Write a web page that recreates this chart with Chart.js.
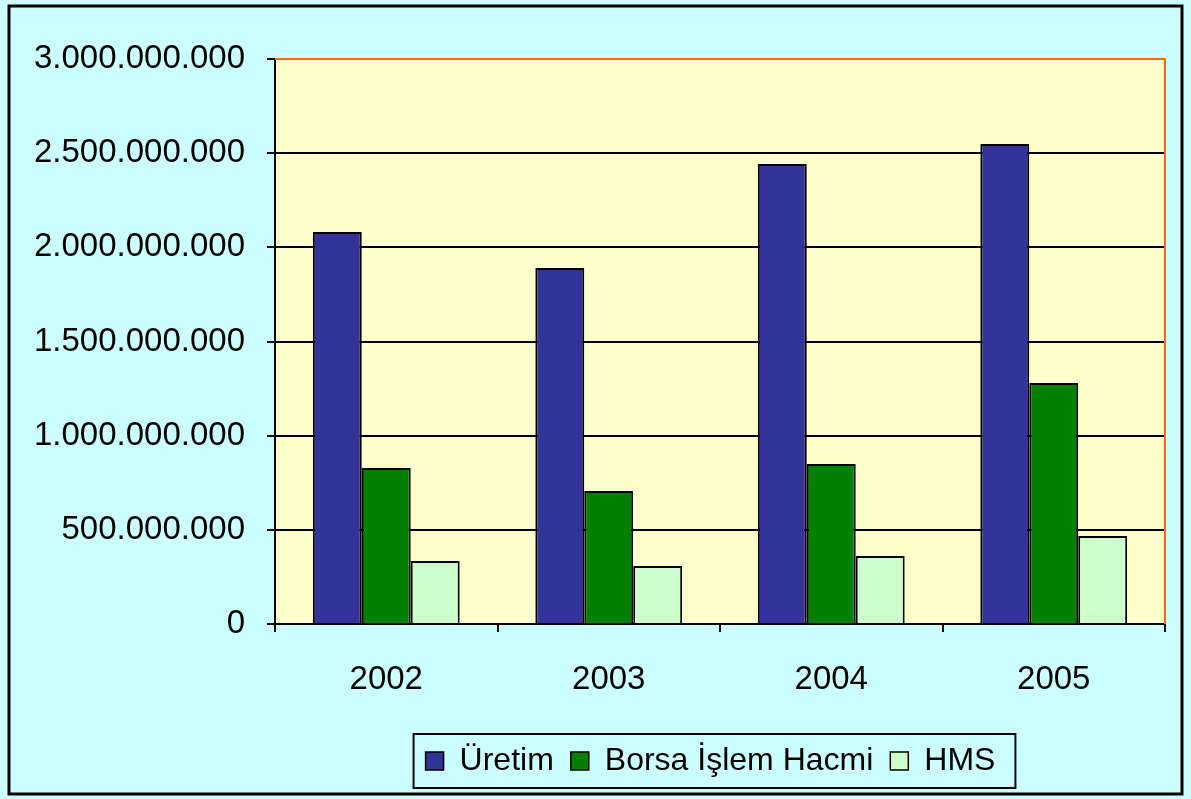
<!DOCTYPE html>
<html>
<head>
<meta charset="utf-8">
<script src="https://cdn.jsdelivr.net/npm/chart.js@4.4.0/dist/chart.umd.min.js"></script>
<style>
  html, body { margin: 0; padding: 0; background: #fff; }
  #wrap { width: 1191px; height: 799px; }
</style>
</head>
<body>
<div id="wrap"><canvas id="chart"></canvas></div>
<script>
// data
const years = ["2002", "2003", "2004", "2005"];
const uretim = [2081000000, 1890000000, 2442000000, 2549000000];
const borsa = [828000000, 706000000, 850000000, 1280000000];
const hms = [334000000, 308000000, 361000000, 467000000];
const yTicks = [0, 500000000, 1000000000, 1500000000, 2000000000, 2500000000, 3000000000];
const yTickLabels = ["0", "500.000.000", "1.000.000.000", "1.500.000.000", "2.000.000.000", "2.500.000.000", "3.000.000.000"];

const FONT = "'Liberation Sans', Arial, sans-serif";
const LEGEND_SHIFT = 128; // legend sits right of centre in the original

// backgrounds, frame, legend box
const frame = {
    id: "frame",
    afterLayout(chart) {
        const lg = chart.legend;
        lg.left += LEGEND_SHIFT;
        lg.right += LEGEND_SHIFT;
        lg.legendHitBoxes.forEach(h => { h.left += LEGEND_SHIFT; });
    },
    beforeDraw(chart) {
        const c = chart.ctx, a = chart.chartArea;
        c.save();
        c.fillStyle = "#CCFFFF";
        c.fillRect(0, 0, chart.width, chart.height);
        c.fillStyle = "#FFFFCC";
        c.fillRect(a.left, a.top, a.right - a.left, a.bottom - a.top);
        c.restore();
    },
    afterDraw(chart) {
        const c = chart.ctx, a = chart.chartArea;
        c.save();
        // orange top + right border of plot
        c.strokeStyle = "#FF6600";
        c.lineWidth = 2;
        c.beginPath();
        c.moveTo(a.left, a.top);
        c.lineTo(a.right, a.top);
        c.lineTo(a.right, a.bottom);
        c.stroke();
        // outer border
        c.strokeStyle = "#000";
        c.lineWidth = 3;
        c.strokeRect(9, 6, 1173, 788);
        // legend box
        const hb = chart.legend.legendHitBoxes;
        if (hb && hb.length) {
            const l = hb[0].left - 12;
            const r = hb[hb.length - 1].left + hb[hb.length - 1].width + 20;
            const t = hb[0].top - 11;
            const b = hb[0].top + hb[0].height + 11;
            c.lineWidth = 2;
            c.strokeRect(l, t, r - l, b - t);
        }
        c.restore();
    }
};

new Chart(document.getElementById("chart"), {
    type: "bar",
    data: {
        labels: years,
        datasets: [
            { label: "Üretim", data: uretim, backgroundColor: "#333399" },
            { label: "Borsa İşlem Hacmi", data: borsa, backgroundColor: "#008000" },
            { label: "HMS", data: hms, backgroundColor: "#CCFFCC" }
        ]
    },
    options: {
        responsive: true,
        maintainAspectRatio: false,
        animation: false,
        layout: { padding: { left: 0, right: 26, top: 59, bottom: 12 } },
        datasets: {
            bar: {
                categoryPercentage: 0.66,
                barPercentage: 1,
                borderColor: "#000",
                borderWidth: 2
            }
        },
        plugins: {
            tooltip: { enabled: false },
            legend: {
                position: "bottom",
                labels: {
                    color: "#000",
                    font: { family: FONT, size: 32 },
                    boxWidth: 18,
                    boxHeight: 18,
                    padding: 17,
                    generateLabels(chart) {
                        return chart.data.datasets.map((ds, i) => ({
                            text: ds.label,
                            fillStyle: ds.backgroundColor,
                            strokeStyle: "#000",
                            lineWidth: 1.5,
                            datasetIndex: i,
                            fontColor: "#000"
                        }));
                    }
                }
            }
        },
        scales: {
            x: {
                grid: {
                    offset: true,
                    drawOnChartArea: false,
                    drawTicks: true,
                    tickLength: 8,
                    color: "#000",
                    lineWidth: 2
                },
                border: { color: "#000", width: 2 },
                ticks: {
                    color: "#000",
                    font: { family: FONT, size: 33 },
                    padding: 28
                },
                afterFit(s) { s.height = 104; }
            },
            y: {
                min: 0,
                max: 3000000000,
                afterBuildTicks(s) { s.ticks = yTicks.map(v => ({ value: v })); },
                grid: {
                    color: "#000",
                    lineWidth: 2,
                    tickLength: 8
                },
                border: { color: "#000", width: 2 },
                ticks: {
                    color: "#000",
                    font: { family: FONT, size: 33 },
                    padding: 22,
                    callback(v) { return yTickLabels[yTicks.indexOf(v)]; }
                },
                afterFit(s) { s.width = 275; }
            }
        }
    },
    plugins: [frame]
});
</script>
</body>
</html>
